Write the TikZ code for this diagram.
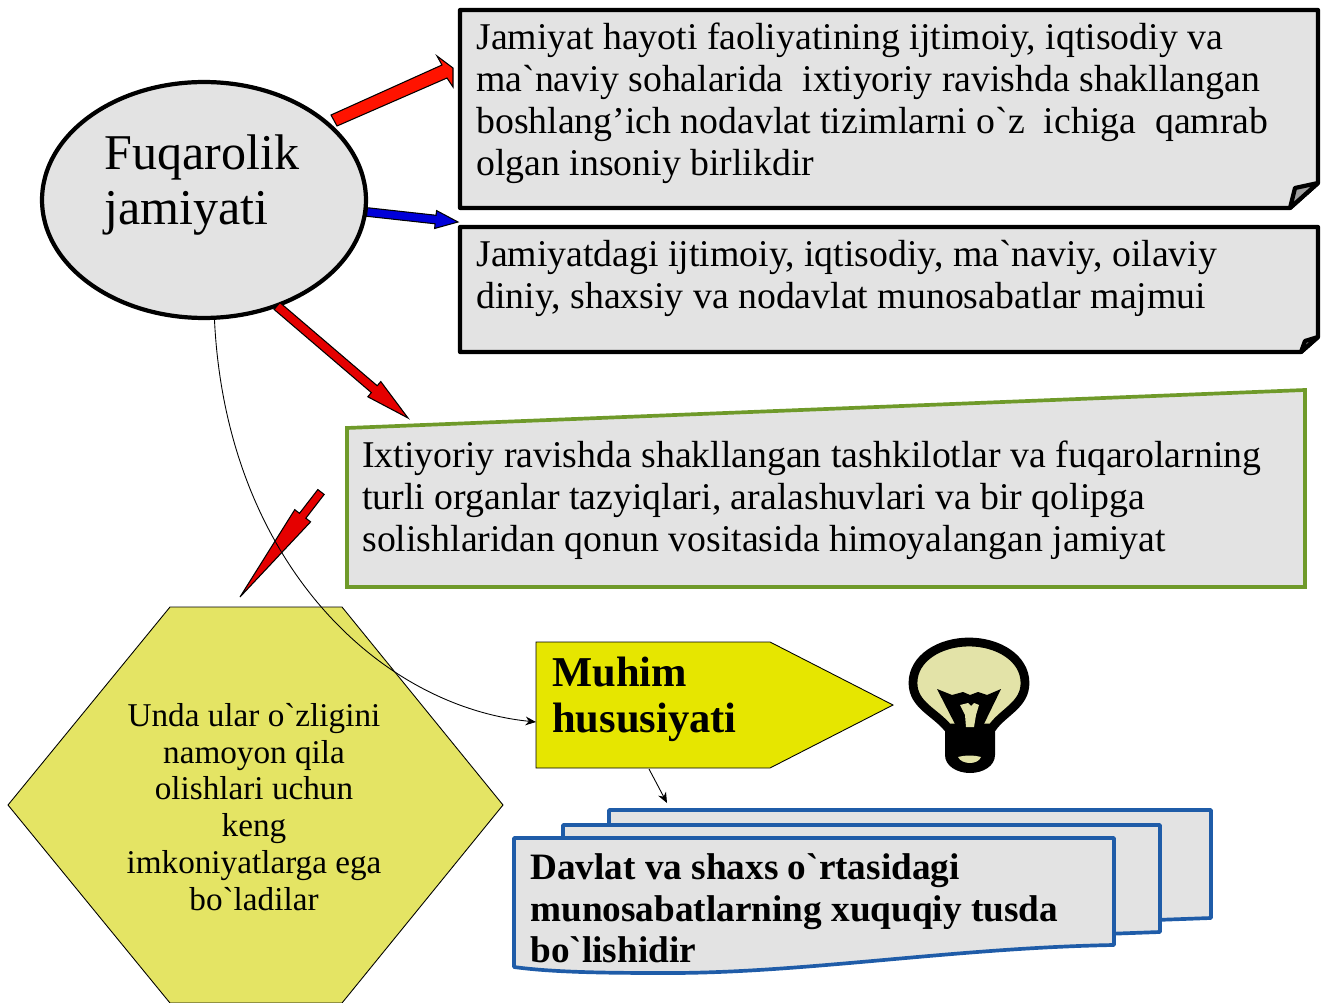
\documentclass[tikz,border=0pt]{standalone}
\usepackage{fontspec}
\newfontfamily\uzfont{Liberation Serif}
\usetikzlibrary{shapes.geometric,calc,arrows.meta}
\definecolor{boxgray}{HTML}{E3E3E3}
\definecolor{boxgreen}{HTML}{6F9A2A}
\definecolor{hexyellow}{HTML}{E4E464}
\definecolor{tagyellow}{HTML}{E6E600}
\definecolor{docblue}{HTML}{1F5CA8}
\definecolor{bulbglass}{HTML}{E3E3A8}
\tikzset{
  notebox/.style={draw=black, fill=boxgray, line width=2.4pt, line join=round},
  boxtext/.style={anchor=north west, inner sep=0pt, align=left, font=\uzfont\fontsize{21.5}{23.8}\selectfont},
  docbox/.style={draw=docblue, fill=boxgray, line width=2.1pt, line join=round},
  thinline/.style={black, line width=0.5pt, -{Stealth[length=6pt,width=5pt]}}
}
% block arrow between two named points: start, end, colour, half shaft, half head, head length
\newcommand{\blockarrow}[6]{
  \draw[black, line width=0.6pt, fill=#3, line join=miter]
    ($(#1)!#4!90:(#2)$) -- ($(#1)!#6!(#2)!#4!90:(#2)$) -- ($(#1)!#6!(#2)!#5!90:(#2)$)
    -- (#2) -- ($(#1)!#6!(#2)!#5!-90:(#2)$) -- ($(#1)!#6!(#2)!#4!-90:(#2)$)
    -- ($(#1)!#4!-90:(#2)$) -- cycle;
}
\begin{document}
\begin{tikzpicture}[x=0.02cm, y=-0.02cm]
\useasboundingbox (0,0) rectangle (1322,1003);
% the three text boxes on top
\draw[notebox] (460,10) -- (1318,10) -- (1318,183) -- (1290,208) -- (460,208) -- cycle;
\draw[notebox, fill=boxgray!70!black] (1318,183) -- (1295,188) -- (1290,208) -- cycle;
\draw[notebox] (460,227) -- (1318,227) -- (1318,337) -- (1301,352) -- (460,352) -- cycle;
\draw[notebox, fill=boxgray!70!black] (1318,337) -- (1305,341) -- (1301,352) -- cycle;
\draw[draw=boxgreen, fill=boxgray, line width=2.1pt] (347,428) -- (1305,390) -- (1305,587) -- (347,587) -- cycle;
\node[boxtext] (ta) at (476,23) {Jamiyat hayoti faoliyatining ijtimoiy, iqtisodiy va\\ma`naviy sohalarida~ ixtiyoriy ravishda shakllangan\\boshlang’ich nodavlat tizimlarni o`z~ ichiga~ qamrab\\olgan insoniy birlikdir};
\node[boxtext] (tb) at (476,240) {Jamiyatdagi ijtimoiy, iqtisodiy, ma`naviy, oilaviy\\diniy, shaxsiy va nodavlat munosabatlar majmui};
\node[boxtext] (tc) at (362,441) {Ixtiyoriy ravishda shakllangan tashkilotlar va fuqarolarning\\turli organlar tazyiqlari, aralashuvlari va bir qolipga\\solishlaridan qonun vositasida himoyalangan jamiyat};
% ellipse
\node[ellipse, draw=black, fill=boxgray, line width=2.4pt, minimum width=6.48cm, minimum height=4.72cm, inner sep=0pt] (fuqaro) at (204,200) {};
\node[anchor=north west, inner sep=0pt, align=left, font=\uzfont\fontsize{28.5}{31.5}\selectfont] (fuqarotext) at (104,134) {Fuqarolik\\jamiyati};
% block arrows
\coordinate (blueA) at (367,212);
\coordinate (blueB) at (458,222);
\blockarrow{blueA}{blueB}{blue!85!black}{4.3*0.02cm}{9*0.02cm}{69*0.02cm}
\draw[black, line width=0.6pt, fill=red!85!orange] (331,115) -- (442,65) -- (437,56) -- (453,68) -- (453,87) -- (447,78) -- (337,126) -- cycle;
\coordinate (redA) at (277,306);
\coordinate (redB) at (408,418);
\blockarrow{redA}{redB}{red!90!black}{4.5*0.02cm}{10*0.02cm}{128*0.02cm}
% hexagon and yellow tag
\draw[draw=black, fill=hexyellow, line width=0.5pt] (170,607) -- (342,607) -- (503,805) -- (342,1003) -- (170,1003) -- (8,805) -- cycle;
\node[inner sep=0pt, align=center, font=\uzfont\fontsize{18.9}{21}\selectfont] (hextext) at (254,807) {Unda ular o`zligini\\namoyon qila\\olishlari uchun\\keng\\imkoniyatlarga ega\\bo`ladilar};
\draw[draw=black, fill=tagyellow, line width=0.5pt] (536,642) -- (770,642) -- (893,705) -- (770,768) -- (536,768) -- cycle;
\coordinate (tagwest) at (536,722);
\coordinate (tagsouth) at (649,769);
\coordinate (docnorth) at (667,803);
\node[anchor=north west, inner sep=0pt, align=left, font=\uzfont\bfseries\fontsize{24.2}{26}\selectfont] (tagtext) at (552,657) {Muhim\\hususiyati};
% red arrow and thin lines
\coordinate (lowA) at (321,492);
\coordinate (lowB) at (240,597);
\blockarrow{lowA}{lowB}{red!90!black}{4*0.02cm}{10*0.02cm}{30*0.02cm}
\draw[thinline] (fuqaro.-85) .. controls (226,560) and (378,706) .. (tagwest);
\draw[thinline] (tagsouth) -- (docnorth);
% stacked documents
\draw[docbox] (609,810) -- (1211,810) -- (1211,918) -- (1100,922) -- (609,922) -- cycle;
\draw[docbox] (563,825) -- (1160,825) -- (1160,932) -- (1050,936) -- (563,936) -- cycle;
\draw[docbox] (514,838) -- (1114,838) -- (1114,945) .. controls (950,948) and (800,974) .. (660,973) .. controls (600,973) and (550,972) .. (514,967) -- cycle;
\node[anchor=north west, inner sep=0pt, align=left, font=\uzfont\bfseries\fontsize{21.2}{23.8}\selectfont] (doctext) at (530,853) {Davlat va shaxs o`rtasidagi\\munosabatlarning xuquqiy tusda\\bo`lishidir};
% lamp
\draw[fill=bulbglass, draw=black, line width=5pt, line join=round] (948,728) .. controls (935,712) and (913,705) .. (913,683) .. controls (913,658) and (940,642) .. (969,642) .. controls (998,642) and (1025,658) .. (1025,683) .. controls (1025,705) and (1003,712) .. (992,728) -- cycle;
\fill[black] (945,726) -- (995,726) -- (995,755) .. controls (995,766) and (983,773) .. (970,773) .. controls (957,773) and (945,766) .. (945,755) -- cycle;
\fill[bulbglass] (958,757) .. controls (966,755) and (974,755) .. (981,757) .. controls (978,765) and (962,765) .. (958,757) -- cycle;
\fill[black] (937,689) -- (952,695) -- (963,692) -- (970,695) -- (978,692) -- (987,695) -- (1001,689) -- (982,728) -- (957,728) -- cycle;
\fill[bulbglass] (960,705) -- (968,703) -- (971,706) -- (974,703) -- (979,705) -- (976,715) -- (974,727) -- (966,727) -- (965,715) -- cycle;
\end{tikzpicture}
\end{document}
